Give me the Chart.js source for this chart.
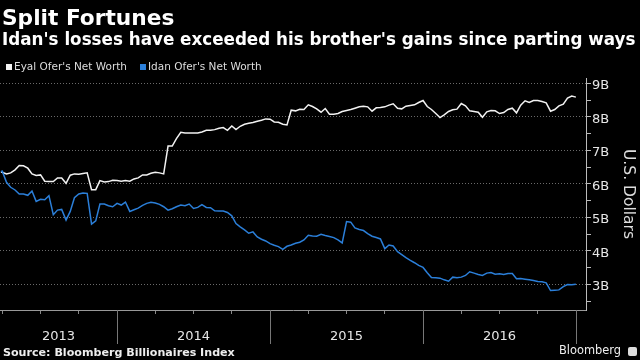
<!DOCTYPE html>
<html>
<head>
<meta charset="utf-8">
<script src="https://cdn.jsdelivr.net/npm/chart.js@4.4.1/dist/chart.umd.min.js"></script>
<style>
  body { margin: 0; background: #000; }
  #wrap { position: relative; width: 640px; height: 360px; overflow: hidden; background: #000; font-family: "DejaVu Sans", sans-serif; }
  #wrap div { position: absolute; white-space: nowrap; line-height: 1; }
  canvas { position: absolute; left: 0; top: 0; }
  .title { left: 2px; top: 6.6px; font-size: 21.7px; font-weight: bold; color: #fff; }
  .subtitle { left: 2px; top: 30.8px; font-size: 16.75px; font-weight: bold; color: #fff; }
  .leg { top: 61px; font-size: 10.5px; color: #ddd; }
  .leg span { display: inline-block; width: 6px; height: 6px; margin-right: 2px; vertical-align: 0px; }
  .source { left: 3px; top: 347.3px; font-size: 11.1px; font-weight: bold; color: #eee; }
  .brand { left: 559px; top: 345.4px; font-size: 11.4px; color: #eee; }
  .logo { left: 628px; top: 347px; width: 9px; height: 9px; background: #ddd; border-radius: 2px; }
</style>
</head>
<body>
<div id="wrap">
  <canvas id="chart" width="640" height="360"></canvas>
  <div class="title">Split Fortunes</div>
  <div class="subtitle">Idan's losses have exceeded his brother's gains since parting ways</div>
  <div class="leg" style="left:6px"><span style="background:#f2f2f2"></span>Eyal Ofer's Net Worth</div>
  <div class="leg" style="left:140px"><span style="background:#2b7fd9"></span>Idan Ofer's Net Worth</div>
  <div class="source">Source: Bloomberg Billionaires Index</div>
  <div class="brand">Bloomberg</div>
  <div class="logo"></div>
</div>
<script>
const dates = [
  "2013-03-28",
  "2013-04-01", "2013-04-11", "2013-04-21", "2013-05-01", "2013-05-11", "2013-05-21",
  "2013-06-01", "2013-06-11", "2013-06-21", "2013-07-01", "2013-07-11", "2013-07-21",
  "2013-08-01", "2013-08-11", "2013-08-21", "2013-09-01", "2013-09-11", "2013-09-21",
  "2013-10-01", "2013-10-11", "2013-10-21", "2013-11-01", "2013-11-11", "2013-11-21",
  "2013-12-01", "2013-12-11", "2013-12-21",
  "2014-01-01", "2014-01-11", "2014-01-21", "2014-02-01", "2014-02-11", "2014-02-21",
  "2014-03-01", "2014-03-11", "2014-03-21", "2014-04-01", "2014-04-11", "2014-04-21",
  "2014-05-01", "2014-05-11", "2014-05-21", "2014-06-01", "2014-06-11", "2014-06-21",
  "2014-07-01", "2014-07-11", "2014-07-21", "2014-08-01", "2014-08-11", "2014-08-21",
  "2014-09-01", "2014-09-11", "2014-09-21", "2014-10-01", "2014-10-11", "2014-10-21",
  "2014-11-01", "2014-11-11", "2014-11-21", "2014-12-01", "2014-12-11", "2014-12-21",
  "2015-01-01", "2015-01-11", "2015-01-21", "2015-02-01", "2015-02-11", "2015-02-21",
  "2015-03-01", "2015-03-11", "2015-03-21", "2015-04-01", "2015-04-11", "2015-04-21",
  "2015-05-01", "2015-05-11", "2015-05-21", "2015-06-01", "2015-06-11", "2015-06-21",
  "2015-07-01", "2015-07-11", "2015-07-21", "2015-08-01", "2015-08-11", "2015-08-21",
  "2015-09-01", "2015-09-11", "2015-09-21", "2015-10-01", "2015-10-11", "2015-10-21",
  "2015-11-01", "2015-11-11", "2015-11-21", "2015-12-01", "2015-12-11", "2015-12-21",
  "2016-01-01", "2016-01-11", "2016-01-21", "2016-02-01", "2016-02-11", "2016-02-21",
  "2016-03-01", "2016-03-11", "2016-03-21", "2016-04-01", "2016-04-11", "2016-04-21",
  "2016-05-01", "2016-05-11", "2016-05-21", "2016-06-01", "2016-06-11", "2016-06-21",
  "2016-07-01", "2016-07-11", "2016-07-21", "2016-08-01", "2016-08-11", "2016-08-21",
  "2016-09-01", "2016-09-11", "2016-09-21", "2016-10-01", "2016-10-11", "2016-10-21",
  "2016-11-01", "2016-11-11", "2016-11-21", "2016-12-01", "2016-12-11", "2016-12-21",
  "2016-12-31"
];

// net worth, billions of dollars
const eyal = [
  6.35,
  6.35, 6.30, 6.33, 6.42, 6.55, 6.54, 6.47, 6.30, 6.25, 6.27, 6.08, 6.07,
  6.07, 6.18, 6.18, 6.02, 6.26, 6.30, 6.29, 6.31, 6.33, 5.83, 5.83, 6.10,
  6.06, 6.07, 6.11,
  6.10, 6.08, 6.10, 6.08, 6.15, 6.18, 6.27, 6.27, 6.32, 6.35, 6.33, 6.30,
  7.13, 7.13, 7.35, 7.54, 7.52, 7.52, 7.52, 7.52, 7.55, 7.60, 7.60, 7.62,
  7.66, 7.68, 7.60, 7.73, 7.62, 7.72, 7.78, 7.81, 7.83, 7.87, 7.90, 7.94,
  7.93, 7.85, 7.84, 7.78, 7.76, 8.20, 8.18, 8.23, 8.22, 8.36, 8.31, 8.24,
  8.14, 8.25, 8.08, 8.08, 8.10, 8.16, 8.19, 8.22, 8.26, 8.30, 8.32, 8.30,
  8.17, 8.27, 8.28, 8.30, 8.35, 8.39, 8.26, 8.24, 8.32, 8.34, 8.36, 8.43,
  8.49, 8.31, 8.22, 8.10, 7.98, 8.06, 8.16, 8.21, 8.23, 8.40, 8.33, 8.18,
  8.16, 8.14, 7.99, 8.15, 8.19, 8.18, 8.10, 8.13, 8.22, 8.26, 8.12, 8.35,
  8.48, 8.43, 8.49, 8.49, 8.46, 8.42, 8.17, 8.22, 8.33, 8.38, 8.56, 8.62,
  8.59
];

const idan = [
  6.37,
  6.38, 6.05, 5.90, 5.82, 5.70, 5.70, 5.66, 5.79, 5.48, 5.54, 5.53, 5.65,
  5.08, 5.22, 5.24, 4.92, 5.18, 5.59, 5.70, 5.73, 5.72, 4.80, 4.90, 5.40,
  5.40, 5.35, 5.32,
  5.42, 5.37, 5.46, 5.18, 5.23, 5.28, 5.36, 5.42, 5.45, 5.43, 5.39, 5.32,
  5.22, 5.26, 5.32, 5.37, 5.35, 5.40, 5.27, 5.30, 5.38, 5.30, 5.29, 5.20,
  5.19, 5.19, 5.15, 5.05, 4.82, 4.72, 4.63, 4.53, 4.57, 4.42, 4.35, 4.30,
  4.22, 4.17, 4.13, 4.05, 4.14, 4.18, 4.23, 4.26, 4.33, 4.47, 4.45, 4.44,
  4.50, 4.46, 4.43, 4.40, 4.33, 4.24, 4.88, 4.86, 4.69, 4.64, 4.61, 4.52,
  4.44, 4.40, 4.36, 4.07, 4.18, 4.15, 3.98, 3.89, 3.80, 3.72, 3.65, 3.57,
  3.51, 3.35, 3.21, 3.20, 3.19, 3.14, 3.10, 3.22, 3.20, 3.22, 3.27, 3.38,
  3.34, 3.30, 3.27, 3.34, 3.36, 3.31, 3.32, 3.30, 3.33, 3.33, 3.17, 3.18,
  3.16, 3.14, 3.12, 3.09, 3.08, 3.05, 2.82, 2.83, 2.84, 2.94, 3.00, 2.99,
  3.01
];

const yearLabels = ["2013", "2014", "2015", "2016"];
const yTicks = [2.5, 3, 3.5, 4, 4.5, 5, 5.5, 6, 6.5, 7, 7.5, 8, 8.5, 9];

const xMin = 2013.235, xMax = 2017.065;

function toYear(s) {
  const [y, m, d] = s.split("-").map(Number);
  return y + (m - 1) / 12 + (d - 1) / 365;
}

const years = yearLabels.map(Number);
const dividers = years.slice(1).concat(years[years.length - 1] + 1);

const yearDividers = {
  id: "yearDividers",
  afterDraw(chart) {
    const x = chart.scales.x;
    const ctx = chart.ctx;
    ctx.save();
    ctx.strokeStyle = "#777";
    ctx.lineWidth = 1;
    dividers.forEach(yr => {
      const px = Math.round(x.getPixelForValue(yr)) + 0.5;
      ctx.beginPath();
      ctx.moveTo(px, x.top);
      ctx.lineTo(px, x.top + 34);
      ctx.stroke();
    });
    ctx.restore();
  }
};

Chart.defaults.font.family = "'DejaVu Sans', sans-serif";

new Chart(document.getElementById("chart"), {
  type: "line",
  data: {
    datasets: [
      {
        label: "Eyal Ofer's Net Worth",
        data: dates.map((d, i) => ({ x: toYear(d), y: eyal[i] })),
        borderColor: "#f2f2f2",
        borderWidth: 1.5,
        pointRadius: 0,
        order: 1
      },
      {
        label: "Idan Ofer's Net Worth",
        data: dates.map((d, i) => ({ x: toYear(d), y: idan[i] })),
        borderColor: "#2b7fd9",
        borderWidth: 1.5,
        pointRadius: 0,
        order: 0
      }
    ]
  },
  options: {
    responsive: false,
    animation: false,
    devicePixelRatio: 1,
    layout: { padding: { top: 78, left: 0, right: 0, bottom: 0 } },
    plugins: {
      legend: { display: false },
      tooltip: { enabled: false }
    },
    scales: {
      x: {
        type: "linear",
        min: xMin,
        max: xMax,
        afterBuildTicks: s => {
          const t = [];
          for (let q = 2013.25; q <= 2017.001; q += 0.25) t.push({ value: q });
          yearLabels.forEach(y => {
            const a = Math.max(+y, xMin);
            t.push({ value: (a + (+y + 1)) / 2, yearLabel: y });
          });
          t.sort((a, b) => a.value - b.value);
          s.ticks = t;
        },
        afterFit: s => { s.height = 50; },
        grid: {
          drawOnChartArea: false,
          tickLength: 4,
          tickColor: c => (c.tick && c.tick.yearLabel ? "rgba(0,0,0,0)" : "#888")
        },
        border: { color: "#999" },
        ticks: {
          autoSkip: false,
          maxRotation: 0,
          padding: 1,
          color: "#e6e6e6",
          // tall line box pushes the year labels down to mid-band
          font: { size: 13, lineHeight: "44px" },
          callback: (v, i, ticks) => ticks[i].yearLabel || ""
        }
      },
      y: {
        position: "right",
        min: 2.24,
        max: 9.16,
        afterBuildTicks: s => { s.ticks = yTicks.map(v => ({ value: v })); },
        afterFit: s => { s.width = 54; },
        grid: {
          color: c => (c.tick && Number.isInteger(c.tick.value) ? "#6a6a6a" : "rgba(0,0,0,0)"),
          tickColor: "#bbb",
          tickLength: 5,
          tickBorderDash: []
        },
        border: { color: "#bbb", dash: [1, 2] },
        ticks: {
          autoSkip: false,
          padding: 1,
          labelOffset: 2.5,
          color: "#e6e6e6",
          font: { size: 13 },
          callback: v => (Number.isInteger(v) ? v + "B" : "")
        },
        title: {
          display: true,
          text: "U.S. Dollars",
          color: "#ddd",
          font: { size: 15.5 },
          padding: { top: 3, bottom: 0 }
        }
      }
    }
  },
  plugins: [yearDividers]
});
</script>
</body>
</html>
